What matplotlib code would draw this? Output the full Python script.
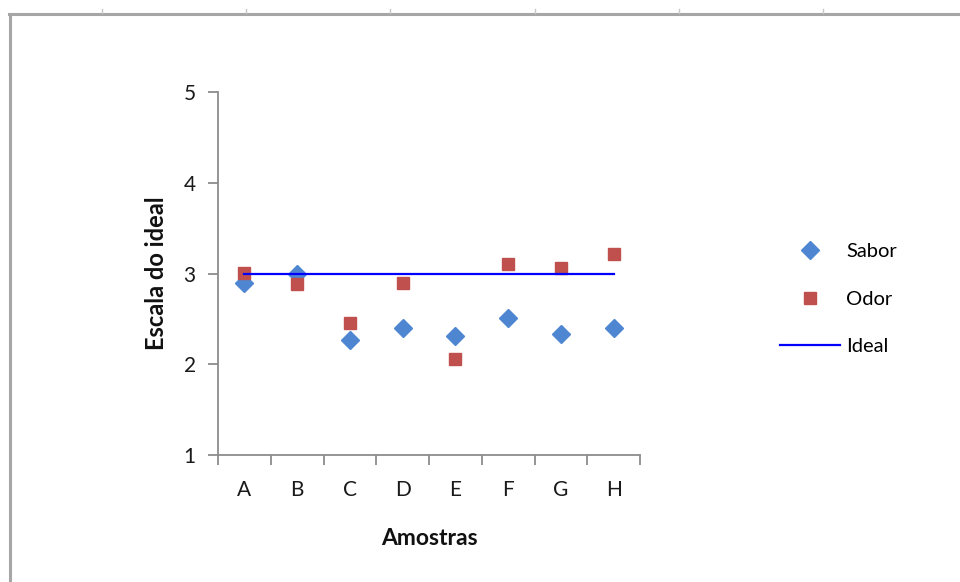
import matplotlib
matplotlib.use("Agg")
import matplotlib.pyplot as plt
from matplotlib.lines import Line2D

# sensory scores per sample, against the ideal point of the scale
amostras = ["A", "B", "C", "D", "E", "F", "G", "H"]
sabor = [2.89, 3.00, 2.27, 2.40, 2.31, 2.51, 2.33, 2.40]
odor = [3.01, 2.88, 2.46, 2.90, 2.06, 3.10, 3.06, 3.21]
ideal = [3, 3, 3, 3, 3, 3, 3, 3]

plt.rcParams['font.family'] = ['Lato', 'DejaVu Sans']

W, H = 960, 582
fig = plt.figure(figsize=(W / 100, H / 100), dpi=100)
fig.patch.set_facecolor("white")

# worksheet frame around the chart object
frame_col = "#a6a6a6"
fig.add_artist(Line2D([9 / W, 1], [1 - 14 / H, 1 - 14 / H], color=frame_col, lw=2.2,
                      transform=fig.transFigure))
fig.add_artist(Line2D([10 / W, 10 / W], [0, 1 - 14 / H], color=frame_col, lw=2.2,
                      transform=fig.transFigure))
for cx in [102, 246, 390, 535, 679, 823]:
    fig.add_artist(Line2D([cx / W, cx / W], [1 - 9 / H, 1 - 13 / H], color="#c8c8c8", lw=1,
                          transform=fig.transFigure))

ax = fig.add_axes([218 / W, (H - 455) / H, 422 / W, 363 / H])

x = [i + 0.5 for i in range(len(amostras))]
ax.plot(x, sabor, linestyle="none", marker="D", ms=9, color="#4f86d2",
        markeredgecolor="#4f86d2", label="Sabor", zorder=3)
ax.plot(x, odor, linestyle="none", marker="s", ms=8.5, color="#c0504d",
        markeredgecolor="#c0504d", label="Odor", zorder=3)
ax.plot(x, ideal, color="#0000ff", lw=1.6, label="Ideal", zorder=4)

ax.set_xlim(0, len(amostras))
ax.set_ylim(1, 5)
ax.set_yticks([1, 2, 3, 4, 5])
ax.set_xticks(range(len(amostras) + 1))
ax.set_xticklabels([])
ax.set_xticks(x, minor=True)
ax.set_xticklabels(amostras, minor=True)

axis_col = "#8c8c8c"
for side in ["top", "right"]:
    ax.spines[side].set_visible(False)
for side in ["left", "bottom"]:
    ax.spines[side].set_color(axis_col)
    ax.spines[side].set_linewidth(1.3)
ax.tick_params(axis="both", which="major", direction="out", length=7, width=1.3,
               color=axis_col, labelsize=15, labelcolor="#1a1a1a")
ax.tick_params(axis="y", pad=9)
ax.tick_params(axis="x", which="minor", length=0, pad=18, labelsize=15,
               labelcolor="#1a1a1a")

ax.set_xlabel("Amostras", fontsize=16.5, fontweight="bold", labelpad=20, color="#111111")
ax.set_ylabel("Escala do ideal", fontsize=17, fontweight="bold", labelpad=11, color="#111111")

ax.legend(loc="center left", bbox_to_anchor=(780 / W, 1 - 299 / H),
          bbox_transform=fig.transFigure, frameon=False, fontsize=14.5,
          handlelength=3.0, handletextpad=0.3, labelspacing=1.5,
          borderaxespad=0, borderpad=0)

fig.savefig("out.png", dpi=100)
